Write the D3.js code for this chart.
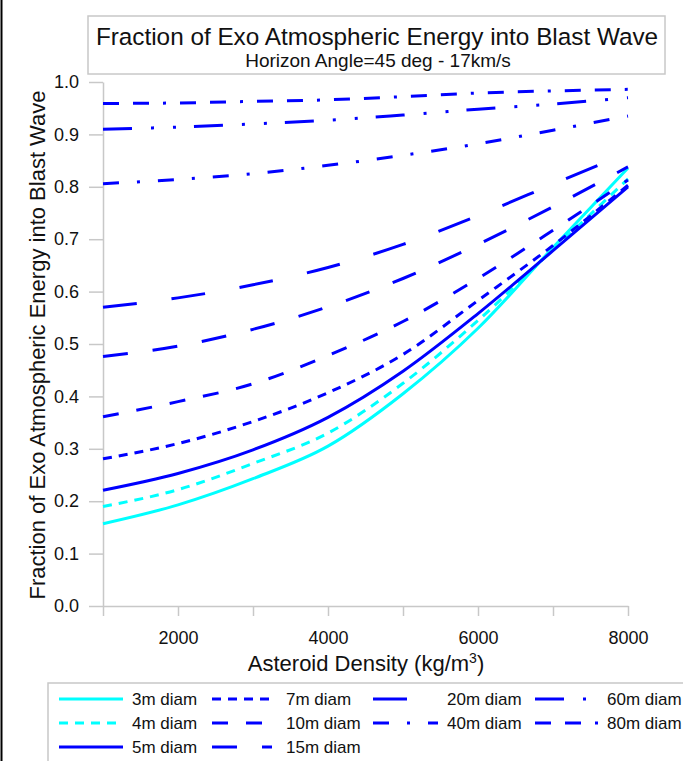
<!DOCTYPE html>
<html>
<head>
<meta charset="utf-8">
<script src="https://cdn.jsdelivr.net/npm/d3@7"></script>
<style>
  html, body { margin: 0; padding: 0; background: #fff; }
  svg { display: block; }
  text { font-family: "Liberation Sans", Arial, sans-serif; }
</style>
</head>
<body>
<svg id="chart" width="683" height="761"></svg>
<script>
// ---- data ----
const densities = [1000, 2000, 3000, 4000, 5000, 6000, 7000, 8000];
const d3m  = [0.157, 0.193, 0.243, 0.305, 0.405, 0.530, 0.684, 0.836];
const d4m  = [0.190, 0.222, 0.272, 0.330, 0.425, 0.545, 0.680, 0.815];
const d5m  = [0.221, 0.253, 0.298, 0.360, 0.448, 0.558, 0.678, 0.800];
const d7m  = [0.281, 0.310, 0.352, 0.407, 0.480, 0.583, 0.688, 0.803];
const d10m = [0.361, 0.390, 0.424, 0.478, 0.543, 0.625, 0.717, 0.813];
const d15m = [0.476, 0.496, 0.528, 0.571, 0.625, 0.690, 0.762, 0.838];
const d20m = [0.570, 0.588, 0.613, 0.646, 0.690, 0.745, 0.805, 0.865];
const d40m = [0.806, 0.814, 0.825, 0.841, 0.860, 0.882, 0.908, 0.935];
const d60m = [0.910, 0.914, 0.920, 0.927, 0.937, 0.948, 0.958, 0.970];
const d80m = [0.959, 0.960, 0.963, 0.966, 0.972, 0.979, 0.983, 0.986];
const seriesNames = ["3m diam", "4m diam", "5m diam", "7m diam", "10m diam",
                     "15m diam", "20m diam", "40m diam", "60m diam", "80m diam"];
const yTicks = [0, 0.1, 0.2, 0.3, 0.4, 0.5, 0.6, 0.7, 0.8, 0.9, 1.0];
const xTicks = [1000, 2000, 3000, 4000, 5000, 6000, 7000, 8000];
const xLabelTicks = [2000, 4000, 6000, 8000];

const seriesValues = [d3m, d4m, d5m, d7m, d10m, d15m, d20m, d40m, d60m, d80m];
const styles = [
  {color: "#00ffff", dash: null},
  {color: "#00ffff", dash: "9,7"},
  {color: "#0000ff", dash: null},
  {color: "#0000ff", dash: "9,7"},
  {color: "#0000ff", dash: "16,18"},
  {color: "#0000ff", dash: "25,25"},
  {color: "#0000ff", dash: "34,35"},
  {color: "#0000ff", dash: "16,18,3,18"},
  {color: "#0000ff", dash: "29,19,3,19,3,18"},
  {color: "#0000ff", dash: "16,14,16,14,3,14"}
];

const svg = d3.select("#chart");
const FONT = '"Liberation Sans", Arial, sans-serif';

// page left border
svg.append("line").attr("x1", 1.5).attr("x2", 1.5).attr("y1", 0).attr("y2", 761)
  .attr("stroke", "#000").attr("stroke-width", 2);

// scales
const x = d3.scaleLinear().domain([1000, 8000]).range([103, 628]);
const y = d3.scaleLinear().domain([0, 1]).range([606, 82]);

// title box
svg.append("rect").attr("x", 88).attr("y", 16).attr("width", 577).attr("height", 58)
  .attr("fill", "#fff").attr("stroke", "#c8c8c8").attr("stroke-width", 1.5);
svg.append("text").attr("x", 377).attr("y", 45).attr("text-anchor", "middle")
  .attr("font-size", 24.3).attr("fill", "#111")
  .text("Fraction of Exo Atmospheric Energy into Blast Wave");
svg.append("text").attr("x", 378).attr("y", 67).attr("text-anchor", "middle")
  .attr("font-size", 19).attr("fill", "#111")
  .text("Horizon Angle=45 deg - 17km/s");

// axes
const yAxis = d3.axisLeft(y).tickValues(yTicks).tickFormat(d3.format(".1f"))
  .tickSize(14).tickSizeOuter(0).tickPadding(10);
const gy = svg.append("g").attr("transform", "translate(103,0)").call(yAxis);
const xAxis = d3.axisBottom(x).tickValues(xTicks)
  .tickFormat(d => xLabelTicks.includes(d) ? String(d) : "")
  .tickSize(10).tickSizeOuter(0).tickPadding(15);
const gx = svg.append("g").attr("transform", "translate(0,606)").call(xAxis);
[gx, gy].forEach(g => {
  g.select(".domain").attr("stroke", "#c8c8c8").attr("stroke-width", 1.5);
  g.selectAll(".tick line").attr("stroke", "#c8c8c8").attr("stroke-width", 1.5);
  g.selectAll(".tick text").attr("font-size", 18).attr("font-family", FONT).attr("fill", "#111");
});

// axis titles
svg.append("text").attr("transform", "translate(45,345) rotate(-90)")
  .attr("text-anchor", "middle").attr("font-size", 22).attr("fill", "#111")
  .text("Fraction of Exo Atmospheric Energy into Blast Wave");
const xt = svg.append("text").attr("x", 366).attr("y", 671).attr("text-anchor", "middle")
  .attr("font-size", 22).attr("fill", "#111");
xt.append("tspan").text("Asteroid Density (kg/m");
xt.append("tspan").attr("font-size", 14).attr("dy", -8).text("3");
xt.append("tspan").attr("dy", 8).text(")");

// lines
const line = d3.line().x(d => x(d[0])).y(d => y(d[1])).curve(d3.curveMonotoneX);
const gl = svg.append("g");
seriesValues.forEach((vals, i) => {
  const pts = densities.map((dd, j) => [dd, vals[j]]);
  gl.append("path").datum(pts).attr("d", line)
    .attr("fill", "none").attr("stroke", styles[i].color).attr("stroke-width", 3)
    .attr("stroke-dasharray", styles[i].dash);
});

// legend
svg.append("rect").attr("x", 48).attr("y", 683).attr("width", 700).attr("height", 120)
  .attr("fill", "#fff").attr("stroke", "#c8c8c8").attr("stroke-width", 1.5);
const colLineX = [59, 212, 373, 535];
const colLineW = [64, 60, 65, 63];
const colTextX = [132, 286, 447, 607];
const rowY = [699, 723, 747];
const layout = [[0,0],[0,1],[0,2],[1,0],[1,1],[1,2],[2,0],[2,1],[3,0],[3,1]];
layout.forEach(([c, r], i) => {
  svg.append("line").attr("x1", colLineX[c]).attr("x2", colLineX[c] + colLineW[c])
    .attr("y1", rowY[r]).attr("y2", rowY[r])
    .attr("stroke", styles[i].color).attr("stroke-width", 3)
    .attr("stroke-dasharray", styles[i].dash);
  svg.append("text").attr("x", colTextX[c]).attr("y", rowY[r] + 6)
    .attr("font-size", 17).attr("fill", "#111").text(seriesNames[i]);
});
</script>
</body>
</html>
